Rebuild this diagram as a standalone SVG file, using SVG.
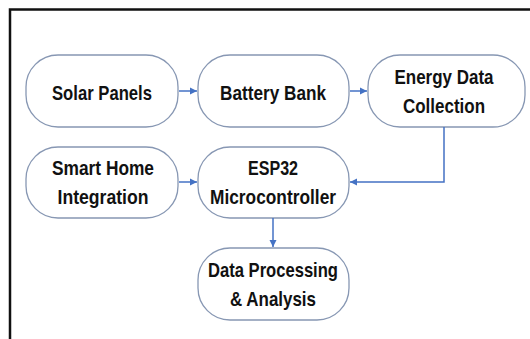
<svg xmlns="http://www.w3.org/2000/svg" width="530" height="339" viewBox="0 0 530 339">
<defs>
<style>
.node rect{fill:#fff;stroke:#8797b3;stroke-width:1.3}
.node text{font-family:"Liberation Sans",Arial,sans-serif;font-weight:bold;font-size:21px;fill:#111;text-anchor:middle}
.edge{fill:none;stroke:#4472c4;stroke-width:1.5}
</style>
<marker id="ah" markerWidth="8" markerHeight="8" refX="7" refY="4" orient="auto" markerUnits="userSpaceOnUse">
<path d="M0,0.5 L7,4 L0,7.5 Z" fill="#4472c4"/>
</marker>
</defs>
<rect width="530" height="339" fill="#fff"/>
<path d="M10,339 V9.5 H530" fill="none" stroke="#111" stroke-width="2.5"/>
<g id="solar" class="node"><rect x="26" y="55" width="152" height="72" rx="32"/><text x="102" y="100" textLength="100" lengthAdjust="spacingAndGlyphs">Solar Panels</text></g>
<g id="battery" class="node"><rect x="198" y="55" width="151" height="72" rx="32"/><text x="273" y="100" textLength="106" lengthAdjust="spacingAndGlyphs">Battery Bank</text></g>
<g id="energy" class="node"><rect x="368" y="55" width="157" height="72" rx="32"/><text x="444" y="84" textLength="99" lengthAdjust="spacingAndGlyphs">Energy Data</text><text x="444" y="113" textLength="82" lengthAdjust="spacingAndGlyphs">Collection</text></g>
<g id="smarthome" class="node"><rect x="26" y="147" width="152" height="71" rx="32"/><text x="103" y="175" textLength="102" lengthAdjust="spacingAndGlyphs">Smart Home</text><text x="103" y="204" textLength="91" lengthAdjust="spacingAndGlyphs">Integration</text></g>
<g id="esp32" class="node"><rect x="198" y="147" width="151" height="71" rx="32"/><text x="273" y="175" textLength="50" lengthAdjust="spacingAndGlyphs">ESP32</text><text x="273" y="204" textLength="126" lengthAdjust="spacingAndGlyphs">Microcontroller</text></g>
<g id="dataproc" class="node"><rect x="198" y="248" width="151" height="72" rx="32"/><text x="273" y="277" textLength="130" lengthAdjust="spacingAndGlyphs">Data Processing</text><text x="273" y="306" textLength="86" lengthAdjust="spacingAndGlyphs">&amp; Analysis</text></g>
<g id="connectors">
<path class="edge" d="M179,91 H197" marker-end="url(#ah)"/>
<path class="edge" d="M350,91 H367" marker-end="url(#ah)"/>
<path class="edge" d="M444,127 V182 H350" marker-end="url(#ah)"/>
<path class="edge" d="M179,182 H197" marker-end="url(#ah)"/>
<path class="edge" d="M273,218 V247" marker-end="url(#ah)"/>
</g>
</svg>
